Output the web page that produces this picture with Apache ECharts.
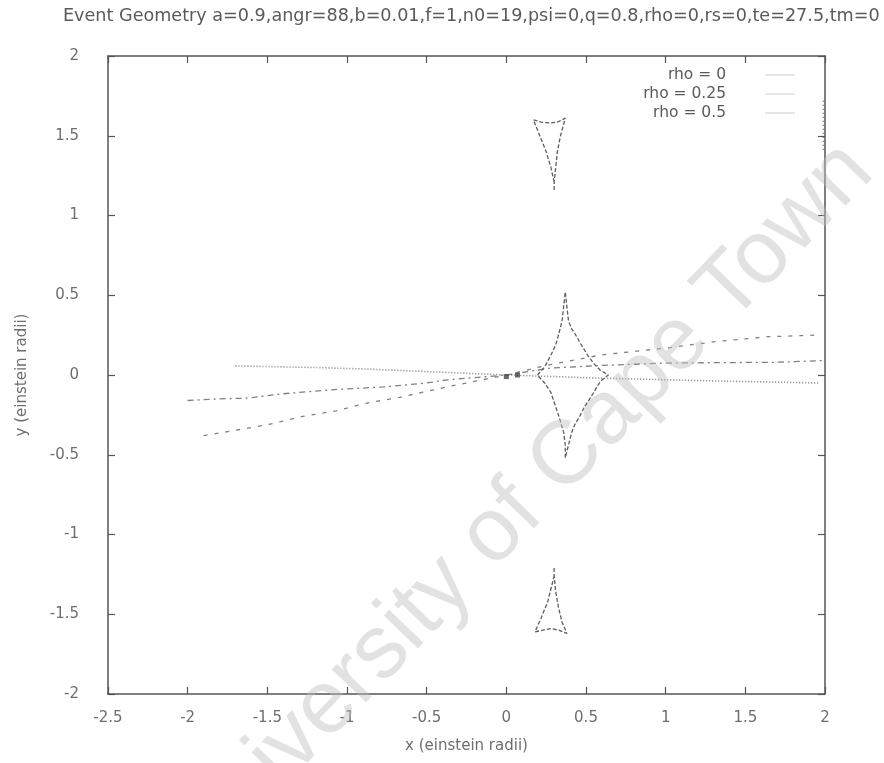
<!DOCTYPE html>
<html>
<head>
<meta charset="utf-8">
<script src="https://cdn.jsdelivr.net/npm/echarts@6/dist/echarts.min.js"></script>
<style>
  html, body { margin: 0; padding: 0; background: #ffffff; }
  #chart { width: 884px; height: 763px; }
</style>
</head>
<body>
<div id="chart"></div>
<script>
// ---- labels ----
const titleText = 'Event Geometry a=0.9,angr=88,b=0.01,f=1,n0=19,psi=0,q=0.8,rho=0,rs=0,te=27.5,tm=0';
const xTickLabels = ['-2.5', '-2', '-1.5', '-1', '-0.5', '0', '0.5', '1', '1.5', '2'];
const yTickLabels = ['-2', '-1.5', '-1', '-0.5', '0', '0.5', '1', '1.5', '2'];
const seriesNames = ['rho = 0', 'rho = 0.25', 'rho = 0.5'];
const xName = 'x (einstein radii)';
const yName = 'y (einstein radii)';
const watermarkText = 'University of Cape Town';

// ---- source trajectories (x, y in einstein radii) ----
const trackRho0 = [
  [-1.70, 0.057], [-1.45, 0.052], [-1.20, 0.047], [-0.90, 0.038], [-0.46, 0.02],
  [0.00, 0.00], [0.60, -0.02], [1.20, -0.035], [1.96, -0.05]
];
const trackRho025 = [
  [-2.00, -0.16], [-1.81, -0.15], [-1.62, -0.145], [-1.43, -0.12], [-1.06, -0.09],
  [-0.77, -0.075], [-0.50, -0.05], [-0.37, -0.03], [0.00, 0.00], [0.28, 0.044],
  [0.60, 0.06], [1.00, 0.075], [1.70, 0.08], [1.98, 0.09]
];
const trackRho05 = [
  [-1.90, -0.38], [-1.69, -0.345], [-1.49, -0.31], [-1.28, -0.26], [-1.07, -0.225],
  [-0.87, -0.175], [-0.67, -0.14], [-0.35, -0.07], [0.00, 0.00], [0.25, 0.06],
  [0.59, 0.125], [1.01, 0.17], [1.32, 0.21], [1.64, 0.24], [1.95, 0.25]
];

// ---- caustics ----
const causticCentral = [
  [0.195, 0.00], [0.24, 0.05], [0.28, 0.125], [0.31, 0.19], [0.33, 0.26], [0.35, 0.34],
  [0.36, 0.43], [0.37, 0.52], [0.38, 0.43], [0.39, 0.34], [0.41, 0.29], [0.43, 0.26],
  [0.47, 0.19], [0.51, 0.125], [0.55, 0.07], [0.59, 0.03], [0.64, 0.00], [0.59, -0.04],
  [0.53, -0.14], [0.49, -0.20], [0.46, -0.26], [0.43, -0.31], [0.41, -0.36], [0.39, -0.44],
  [0.37, -0.52], [0.37, -0.44], [0.36, -0.36], [0.33, -0.26], [0.28, -0.11], [0.24, -0.05],
  [0.195, 0.00]
];
const causticUpper = [
  [0.30, 1.16], [0.30, 1.21], [0.31, 1.30], [0.32, 1.40], [0.34, 1.50], [0.37, 1.61],
  [0.32, 1.585], [0.27, 1.58], [0.22, 1.585], [0.17, 1.60], [0.21, 1.50], [0.25, 1.40],
  [0.28, 1.30], [0.30, 1.21]
];
const causticLower = [
  [0.30, -1.21], [0.30, -1.26], [0.31, -1.36], [0.33, -1.47], [0.35, -1.55], [0.38, -1.62],
  [0.33, -1.60], [0.28, -1.59], [0.23, -1.60], [0.18, -1.61], [0.22, -1.52], [0.26, -1.42],
  [0.28, -1.34], [0.30, -1.26]
];
const edgeStreak = [[1.99, 1.72], [1.99, 1.41]];
const lensPoints = [[0.00, -0.01], [0.07, 0.00]];

// ---- axis ranges ----
const X_MIN = -2.5, X_MAX = 2, Y_MIN = -2, Y_MAX = 2, STEP = 0.5;

const chart = echarts.init(document.getElementById('chart'), null, { renderer: 'canvas' });

const labelFont = 'DejaVu Sans';
const axisColor = '#555555';
const textColor = '#6e6e6e';

function baseAxis(extra) {
  return Object.assign({
    type: 'value',
    interval: STEP,
    splitLine: { show: false },
    axisLine: { show: true, onZero: false, lineStyle: { color: axisColor, width: 1.5 } },
    axisTick: { show: true, inside: true, length: 7, lineStyle: { color: axisColor, width: 1.2 } }
  }, extra);
}

const causticStyle = { color: '#5e5e5e', width: 1.3, type: [4, 2] };
const trackColor = '#808080';

const option = {
  backgroundColor: '#ffffff',
  animation: false,
  title: {
    text: titleText,
    left: 58,
    top: 2,
    textStyle: { fontFamily: labelFont, fontSize: 17.6, fontWeight: 'normal', color: '#5a5a5a' }
  },
  legend: {
    data: seriesNames.map(n => ({ name: n, icon: 'rect', itemStyle: { color: '#e6e6e6' } })),
    orient: 'vertical',
    align: 'right',
    right: 84,
    top: 62,
    itemWidth: 30,
    itemHeight: 2,
    itemGap: 3,
    textStyle: { fontFamily: labelFont, fontSize: 15.5, color: '#5a5a5a', padding: [0, 34, 0, 0] }
  },
  grid: { left: 108, right: 59, top: 56, bottom: 69, containLabel: false },
  xAxis: [
    baseAxis({
      min: X_MIN, max: X_MAX, position: 'bottom',
      name: xName, nameLocation: 'middle', nameGap: 45,
      nameTextStyle: { fontFamily: labelFont, fontSize: 15, color: textColor },
      axisLabel: {
        margin: 17, fontFamily: labelFont, fontSize: 15, color: textColor,
        formatter: v => xTickLabels[Math.round((v - X_MIN) / STEP)]
      }
    }),
    baseAxis({ min: X_MIN, max: X_MAX, position: 'top', axisLabel: { show: false } })
  ],
  yAxis: [
    baseAxis({
      min: Y_MIN, max: Y_MAX, position: 'left',
      name: yName, nameLocation: 'middle', nameGap: 78, nameRotate: 90,
      nameTextStyle: { fontFamily: labelFont, fontSize: 15, color: textColor },
      axisLabel: {
        margin: 29, fontFamily: labelFont, fontSize: 15, color: textColor,
        formatter: v => yTickLabels[Math.round((v - Y_MIN) / STEP)]
      }
    }),
    baseAxis({ min: Y_MIN, max: Y_MAX, position: 'right', axisLabel: { show: false } })
  ],
  series: [
    {
      name: seriesNames[0], type: 'line', data: trackRho0, showSymbol: false,
      lineStyle: { color: trackColor, width: 1.6, type: [1, 2] }, z: 3
    },
    {
      name: seriesNames[1], type: 'line', data: trackRho025, showSymbol: false,
      lineStyle: { color: trackColor, width: 1.3, type: [6, 4, 2, 4] }, z: 3
    },
    {
      name: seriesNames[2], type: 'line', data: trackRho05, showSymbol: false,
      lineStyle: { color: trackColor, width: 1.3, type: [4, 7] }, z: 3
    },
    { name: 'caustic-central', type: 'line', data: causticCentral, showSymbol: false, lineStyle: causticStyle, z: 4 },
    { name: 'caustic-upper', type: 'line', data: causticUpper, showSymbol: false, lineStyle: causticStyle, z: 4 },
    { name: 'caustic-lower', type: 'line', data: causticLower, showSymbol: false, lineStyle: causticStyle, z: 4 },
    {
      name: 'edge', type: 'line', data: edgeStreak, showSymbol: false,
      lineStyle: { color: '#6a6a6a', width: 1.6, type: [1, 3] }, z: 3
    },
    {
      name: 'lens', type: 'scatter', data: lensPoints, symbol: 'rect', symbolSize: 5,
      itemStyle: { color: '#444444' }, z: 5
    }
  ],
  graphic: [
    {
      type: 'text',
      x: 521, y: 506,
      rotation: 46 * Math.PI / 180,
      z: 100,
      silent: true,
      style: {
        text: watermarkText,
        fontFamily: 'Liberation Sans',
        fontSize: 90,
        fill: 'rgba(190,190,190,0.45)',
        align: 'center',
        verticalAlign: 'middle'
      }
    }
  ]
};

chart.setOption(option);
</script>
</body>
</html>
